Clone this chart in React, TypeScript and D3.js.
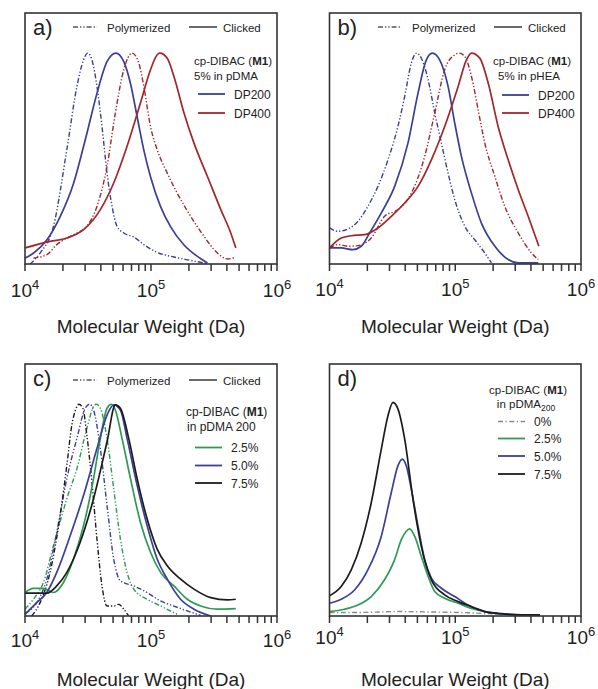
import React from 'react';
import * as d3 from 'd3';

// ---------- colours ----------
const BLUE = '#3b3f96';
const RED = '#a3262b';
const GREEN = '#2e9a55';
const BLACK = '#1c1c1c';
const GRAY = '#8a8a8a';
const FONT = '"Liberation Sans", Arial, Helvetica, sans-serif';

// ---------- data: log10(MW / Da) and normalised RI signal ----------
// Panel a – pDMA, 5% cp-DIBAC
const aPoly200LogMW = [4.04, 4.12, 4.226, 4.332, 4.412, 4.465, 4.497, 4.531, 4.571, 4.611, 4.651, 4.691, 4.73, 4.784, 4.863, 4.943, 5.049, 5.182, 5.315, 5.448];
const aPoly200Signal = [0.0, 0.052, 0.179, 0.542, 0.842, 0.968, 1.0, 0.968, 0.842, 0.652, 0.431, 0.273, 0.179, 0.147, 0.128, 0.092, 0.055, 0.033, 0.017, 0.002];
const aClick200LogMW = [4.0, 4.066, 4.173, 4.279, 4.385, 4.491, 4.571, 4.651, 4.722, 4.784, 4.837, 4.89, 4.943, 4.996, 5.076, 5.155, 5.262, 5.368, 5.448];
const aClick200Signal = [0.027, 0.051, 0.114, 0.225, 0.382, 0.619, 0.809, 0.959, 1.0, 0.959, 0.856, 0.698, 0.54, 0.414, 0.272, 0.177, 0.09, 0.036, 0.005];
const aPoly400LogMW = [4.066, 4.173, 4.252, 4.332, 4.412, 4.491, 4.571, 4.651, 4.717, 4.784, 4.85, 4.903, 4.943, 4.996, 5.049, 5.129, 5.208, 5.315, 5.421, 5.527, 5.607, 5.673];
const aPoly400Signal = [0.028, 0.044, 0.092, 0.123, 0.147, 0.179, 0.273, 0.463, 0.716, 0.921, 1.0, 0.953, 0.842, 0.652, 0.542, 0.431, 0.336, 0.226, 0.131, 0.052, 0.024, 0.033];
const aClick400LogMW = [4.0, 4.199, 4.332, 4.465, 4.598, 4.704, 4.81, 4.916, 4.996, 5.049, 5.07, 5.129, 5.182, 5.262, 5.341, 5.448, 5.554, 5.633, 5.673];
const aClick400Signal = [0.076, 0.107, 0.123, 0.163, 0.258, 0.384, 0.558, 0.763, 0.921, 0.992, 1.0, 0.976, 0.889, 0.716, 0.573, 0.415, 0.258, 0.147, 0.076];

// Panel b – pHEA, 5% cp-DIBAC
const bPoly200LogMW = [4.0, 4.066, 4.146, 4.226, 4.305, 4.385, 4.465, 4.544, 4.598, 4.651, 4.691, 4.73, 4.784, 4.837, 4.89, 4.943, 4.996, 5.076, 5.155, 5.235, 5.288];
const bPoly200Signal = [0.171, 0.155, 0.166, 0.202, 0.273, 0.368, 0.494, 0.652, 0.795, 0.953, 1.0, 0.976, 0.874, 0.716, 0.573, 0.431, 0.305, 0.179, 0.115, 0.052, 0.005];
const bClick200LogMW = [4.0, 4.093, 4.186, 4.252, 4.319, 4.412, 4.518, 4.624, 4.704, 4.77, 4.818, 4.876, 4.943, 4.996, 5.049, 5.129, 5.208, 5.315, 5.421, 5.501, 5.66];
const bClick200Signal = [0.076, 0.076, 0.068, 0.084, 0.147, 0.242, 0.368, 0.573, 0.81, 0.968, 1.0, 0.968, 0.842, 0.668, 0.51, 0.336, 0.194, 0.084, 0.021, 0.005, 0.005];
const bPoly400LogMW = [4.0, 4.066, 4.146, 4.226, 4.332, 4.438, 4.544, 4.651, 4.757, 4.837, 4.916, 4.996, 5.031, 5.076, 5.129, 5.182, 5.235, 5.315, 5.394, 5.501, 5.607, 5.66];
const bPoly400Signal = [0.076, 0.092, 0.084, 0.087, 0.123, 0.226, 0.258, 0.336, 0.51, 0.716, 0.921, 0.992, 1.0, 0.984, 0.889, 0.731, 0.573, 0.415, 0.273, 0.147, 0.052, 0.021];
const bClick400LogMW = [4.0, 4.093, 4.173, 4.279, 4.385, 4.491, 4.598, 4.704, 4.81, 4.916, 5.023, 5.089, 5.129, 5.195, 5.262, 5.341, 5.421, 5.501, 5.58, 5.665];
const bClick400Signal = [0.076, 0.123, 0.134, 0.139, 0.171, 0.226, 0.289, 0.368, 0.494, 0.652, 0.842, 0.968, 1.0, 0.976, 0.858, 0.652, 0.494, 0.352, 0.226, 0.084];

// Panel c – pDMA 200, varying cp-DIBAC loading
const cPoly25LogMW = [4.0, 4.066, 4.146, 4.226, 4.332, 4.412, 4.491, 4.544, 4.566, 4.598, 4.651, 4.704, 4.757, 4.81, 4.863, 4.969, 5.076, 5.208];
const cPoly25Signal = [0.032, 0.079, 0.158, 0.332, 0.554, 0.696, 0.886, 0.989, 1.0, 0.981, 0.839, 0.601, 0.364, 0.206, 0.127, 0.079, 0.047, 0.008];
const cPoly50LogMW = [4.0, 4.093, 4.173, 4.252, 4.332, 4.412, 4.478, 4.513, 4.544, 4.598, 4.651, 4.704, 4.757, 4.863, 4.969, 5.076, 5.182, 5.288, 5.394];
const cPoly50Signal = [0.013, 0.063, 0.174, 0.396, 0.649, 0.839, 0.981, 1.0, 0.973, 0.791, 0.522, 0.269, 0.166, 0.142, 0.111, 0.071, 0.047, 0.024, 0.003];
const cPoly75LogMW = [4.053, 4.12, 4.199, 4.279, 4.332, 4.372, 4.406, 4.428, 4.459, 4.491, 4.531, 4.571, 4.611, 4.651, 4.704, 4.744, 4.784, 4.823];
const cPoly75Signal = [0.0, 0.063, 0.206, 0.475, 0.712, 0.902, 0.981, 1.0, 0.981, 0.854, 0.633, 0.364, 0.142, 0.047, 0.047, 0.055, 0.032, 0.0];
const cClick25LogMW = [4.0, 4.066, 4.146, 4.226, 4.305, 4.385, 4.465, 4.544, 4.598, 4.651, 4.685, 4.717, 4.77, 4.837, 4.916, 4.996, 5.076, 5.182, 5.288, 5.394, 5.527, 5.673];
const cClick25Signal = [0.111, 0.13, 0.13, 0.111, 0.158, 0.269, 0.427, 0.649, 0.839, 0.981, 1.0, 0.973, 0.839, 0.649, 0.443, 0.301, 0.206, 0.142, 0.079, 0.047, 0.032, 0.035];
const cClick50LogMW = [4.0, 4.093, 4.173, 4.252, 4.359, 4.465, 4.571, 4.651, 4.704, 4.757, 4.81, 4.89, 4.969, 5.049, 5.129, 5.235, 5.341, 5.474];
const cClick50Signal = [0.008, 0.063, 0.111, 0.206, 0.38, 0.57, 0.791, 0.949, 0.997, 0.973, 0.839, 0.617, 0.427, 0.269, 0.174, 0.079, 0.032, 0.0];
const cClick75LogMW = [4.0, 4.173, 4.252, 4.332, 4.438, 4.544, 4.651, 4.717, 4.757, 4.823, 4.89, 4.969, 5.049, 5.129, 5.235, 5.341, 5.474, 5.607, 5.673];
const cClick75Signal = [0.108, 0.108, 0.142, 0.206, 0.348, 0.554, 0.823, 0.997, 0.981, 0.839, 0.649, 0.459, 0.316, 0.237, 0.174, 0.127, 0.087, 0.076, 0.079];

// Panel d – clicked pDMA200, absolute signal
const d0LogMW = [4.0, 4.279, 4.544, 4.81, 5.076, 5.341, 5.673];
const d0Signal = [0.016, 0.017, 0.021, 0.019, 0.016, 0.009, 0.005];
const d25LogMW = [4.0, 4.12, 4.226, 4.332, 4.438, 4.518, 4.571, 4.611, 4.637, 4.677, 4.73, 4.784, 4.837, 4.916, 5.023, 5.129, 5.235, 5.394, 5.673];
const d25Signal = [0.021, 0.032, 0.052, 0.092, 0.171, 0.266, 0.361, 0.4, 0.411, 0.377, 0.282, 0.187, 0.116, 0.084, 0.06, 0.036, 0.021, 0.009, 0.005];
const d50LogMW = [4.0, 4.093, 4.199, 4.305, 4.412, 4.491, 4.544, 4.579, 4.611, 4.651, 4.704, 4.757, 4.81, 4.89, 4.996, 5.102, 5.235, 5.394, 5.673];
const d50Signal = [0.06, 0.079, 0.123, 0.218, 0.377, 0.582, 0.709, 0.741, 0.709, 0.598, 0.424, 0.266, 0.179, 0.131, 0.092, 0.052, 0.021, 0.009, 0.005];
const d75LogMW = [4.0, 4.093, 4.173, 4.252, 4.332, 4.412, 4.465, 4.505, 4.544, 4.598, 4.664, 4.73, 4.81, 4.916, 5.023, 5.129, 5.235, 5.341, 5.501, 5.673];
const d75Signal = [0.095, 0.139, 0.218, 0.345, 0.535, 0.788, 0.946, 1.009, 0.978, 0.835, 0.551, 0.329, 0.171, 0.1, 0.068, 0.044, 0.021, 0.013, 0.005, 0.005];

const xDomain = [1e4, 1e6];
const majorTickExponents = [4, 5, 6];
const axisTitle = 'Molecular Weight (Da)';

type Series = { logMW: number[]; signal: number[]; color: string; dashed: boolean };

const DASH = '5,2,1.3,2,1.3,2';
const DASH_D0 = '5,2.5,1.3,2.5';

const panelSeries: Record<string, Series[]> = {
  a: [
    { logMW: aPoly200LogMW, signal: aPoly200Signal, color: BLUE, dashed: true },
    { logMW: aPoly400LogMW, signal: aPoly400Signal, color: RED, dashed: true },
    { logMW: aClick200LogMW, signal: aClick200Signal, color: BLUE, dashed: false },
    { logMW: aClick400LogMW, signal: aClick400Signal, color: RED, dashed: false },
  ],
  b: [
    { logMW: bPoly200LogMW, signal: bPoly200Signal, color: BLUE, dashed: true },
    { logMW: bPoly400LogMW, signal: bPoly400Signal, color: RED, dashed: true },
    { logMW: bClick200LogMW, signal: bClick200Signal, color: BLUE, dashed: false },
    { logMW: bClick400LogMW, signal: bClick400Signal, color: RED, dashed: false },
  ],
  c: [
    { logMW: cPoly25LogMW, signal: cPoly25Signal, color: GREEN, dashed: true },
    { logMW: cPoly50LogMW, signal: cPoly50Signal, color: BLUE, dashed: true },
    { logMW: cPoly75LogMW, signal: cPoly75Signal, color: BLACK, dashed: true },
    { logMW: cClick25LogMW, signal: cClick25Signal, color: GREEN, dashed: false },
    { logMW: cClick50LogMW, signal: cClick50Signal, color: BLUE, dashed: false },
    { logMW: cClick75LogMW, signal: cClick75Signal, color: BLACK, dashed: false },
  ],
  d: [
    { logMW: d0LogMW, signal: d0Signal, color: GRAY, dashed: true },
    { logMW: d25LogMW, signal: d25Signal, color: GREEN, dashed: false },
    { logMW: d50LogMW, signal: d50Signal, color: BLUE, dashed: false },
    { logMW: d75LogMW, signal: d75Signal, color: BLACK, dashed: false },
  ],
};

const layouts = [
  { id: 'a', left: 25, right: 277, top: 13, bottom: 264, tickBase: 297, titleBase: 333 },
  { id: 'b', left: 329.5, right: 581, top: 13, bottom: 264, tickBase: 296, titleBase: 333 },
  { id: 'c', left: 25, right: 277, top: 364, bottom: 616, tickBase: 647, titleBase: 686 },
  { id: 'd', left: 329.5, right: 581, top: 364, bottom: 616, tickBase: 644, titleBase: 686 },
];

function TypeLegend({ x, y }: { x: number; y: number }) {
  return (
    <g fontFamily={FONT} fontSize={11.5} fill="#222">
      <line x1={x} x2={x + 24} y1={y - 4.5} y2={y - 4.5} stroke="#555" strokeWidth={1.3} strokeDasharray={DASH} />
      <text x={x + 34} y={y}>Polymerized</text>
      <line x1={x + 116} x2={x + 144} y1={y - 4.5} y2={y - 4.5} stroke="#444" strokeWidth={1.6} />
      <text x={x + 150} y={y}>Clicked</text>
    </g>
  );
}

function Panel({ lay }: { lay: typeof layouts[number] }) {
  const x = d3.scaleLog().domain(xDomain).range([lay.left, lay.right]);
  const y = d3.scaleLinear().domain([0, 1.19]).range([lay.bottom, lay.top]);
  const line = d3
    .line<[number, number]>()
    .x((d) => x(Math.pow(10, d[0])))
    .y((d) => y(d[1]))
    .curve(d3.curveMonotoneX);
  const ticks = x.ticks();
  const cx = (lay.left + lay.right) / 2;
  const clipId = `clip-${lay.id}`;
  const series = panelSeries[lay.id];
  return (
    <g>
      <defs>
        <clipPath id={clipId}>
          <rect x={lay.left} y={lay.top} width={lay.right - lay.left} height={lay.bottom - lay.top} />
        </clipPath>
      </defs>
      <g clipPath={`url(#${clipId})`}>
        {series.map((s, i) => (
          <path
            key={i}
            d={line(s.logMW.map((v, k) => [v, s.signal[k]] as [number, number])) || ''}
            fill="none"
            stroke={s.color}
            strokeWidth={s.dashed ? 1.4 : 1.7}
            strokeDasharray={s.dashed ? (lay.id === 'd' ? DASH_D0 : DASH) : undefined}
          />
        ))}
      </g>
      <rect x={lay.left} y={lay.top} width={lay.right - lay.left} height={lay.bottom - lay.top} fill="none" stroke="#333" strokeWidth={1.6} />
      {ticks.map((t, i) => (
        <line key={i} x1={x(t)} x2={x(t)} y1={lay.bottom} y2={lay.bottom + 7} stroke="#333" strokeWidth={1.5} />
      ))}
      {majorTickExponents.map((e) => (
        <text key={e} x={x(Math.pow(10, e))} y={lay.tickBase} textAnchor="middle" fontFamily={FONT} fontSize={19} fill="#222">
          10<tspan fontSize={13} dy={-8}>{e}</tspan>
        </text>
      ))}
      <text x={cx} y={lay.titleBase} textAnchor="middle" fontFamily={FONT} fontSize={19} fill="#222">
        {axisTitle}
      </text>
      <text x={lay.left + 8} y={lay.top + 22} fontFamily={FONT} fontSize={22} fill="#222">
        {lay.id + ')'}
      </text>
    </g>
  );
}

function LegendEntry({ x, y, color, label, dashed }: { x: number; y: number; color: string; label: string; dashed?: boolean }) {
  return (
    <g>
      <line x1={x} x2={x + 27} y1={y} y2={y} stroke={color} strokeWidth={dashed ? 1.4 : 1.8} strokeDasharray={dashed ? DASH_D0 : undefined} />
      <text x={x + 36} y={y + 4.5} fontFamily={FONT} fontSize={12} fill="#222">{label}</text>
    </g>
  );
}

const seriesLabelsAB = ['DP200', 'DP400'];
const seriesLabelsC = ['2.5%', '5.0%', '7.5%'];
const seriesLabelsD = ['0%', '2.5%', '5.0%', '7.5%'];

export default function App() {
  return (
    <svg width={598} height={689} style={{ position: 'absolute', left: 0, top: 0, background: '#fff' }}>
      <rect width={598} height={689} fill="#fff" />
      {layouts.map((lay) => (
        <Panel key={lay.id} lay={lay} />
      ))}
      {/* top legends */}
      <TypeLegend x={73} y={31.5} />
      <TypeLegend x={378} y={31.5} />
      <TypeLegend x={73} y={384.5} />

      {/* panel a legend */}
      <g fontFamily={FONT} fontSize={11.5} fill="#222">
        <text x={194} y={65}>cp-DIBAC (<tspan fontWeight="bold">M1</tspan>)</text>
        <text x={194} y={79.5}>5% in pDMA</text>
      </g>
      <LegendEntry x={198} y={94} color={BLUE} label={seriesLabelsAB[0]} />
      <LegendEntry x={198} y={113} color={RED} label={seriesLabelsAB[1]} />

      {/* panel b legend */}
      <g fontFamily={FONT} fontSize={11.5} fill="#222">
        <text x={493} y={65}>cp-DIBAC (<tspan fontWeight="bold">M1</tspan>)</text>
        <text x={498} y={79.5}>5% in pHEA</text>
      </g>
      <LegendEntry x={502} y={95} color={BLUE} label={seriesLabelsAB[0]} />
      <LegendEntry x={502} y={113} color={RED} label={seriesLabelsAB[1]} />

      {/* panel c legend */}
      <g fontFamily={FONT} fontSize={12} fill="#222">
        <text x={186} y={416}>cp-DIBAC (<tspan fontWeight="bold">M1</tspan>)</text>
        <text x={187} y={430.5}>in pDMA 200</text>
      </g>
      <LegendEntry x={195} y={447.5} color={GREEN} label={seriesLabelsC[0]} />
      <LegendEntry x={195} y={465.5} color={BLUE} label={seriesLabelsC[1]} />
      <LegendEntry x={195} y={483} color={BLACK} label={seriesLabelsC[2]} />

      {/* panel d legend */}
      <g fontFamily={FONT} fontSize={11.5} fill="#222" textAnchor="middle">
        <text x={528} y={394}>cp-DIBAC (<tspan fontWeight="bold">M1</tspan>)</text>
        <text x={526} y={408}>in pDMA<tspan fontSize={8.5} dy={3}>200</tspan></text>
      </g>
      <LegendEntry x={498} y={421.5} color={GRAY} label={seriesLabelsD[0]} dashed />
      <LegendEntry x={498} y={438.5} color={GREEN} label={seriesLabelsD[1]} />
      <LegendEntry x={498} y={456} color={BLUE} label={seriesLabelsD[2]} />
      <LegendEntry x={498} y={474} color={BLACK} label={seriesLabelsD[3]} />
    </svg>
  );
}
